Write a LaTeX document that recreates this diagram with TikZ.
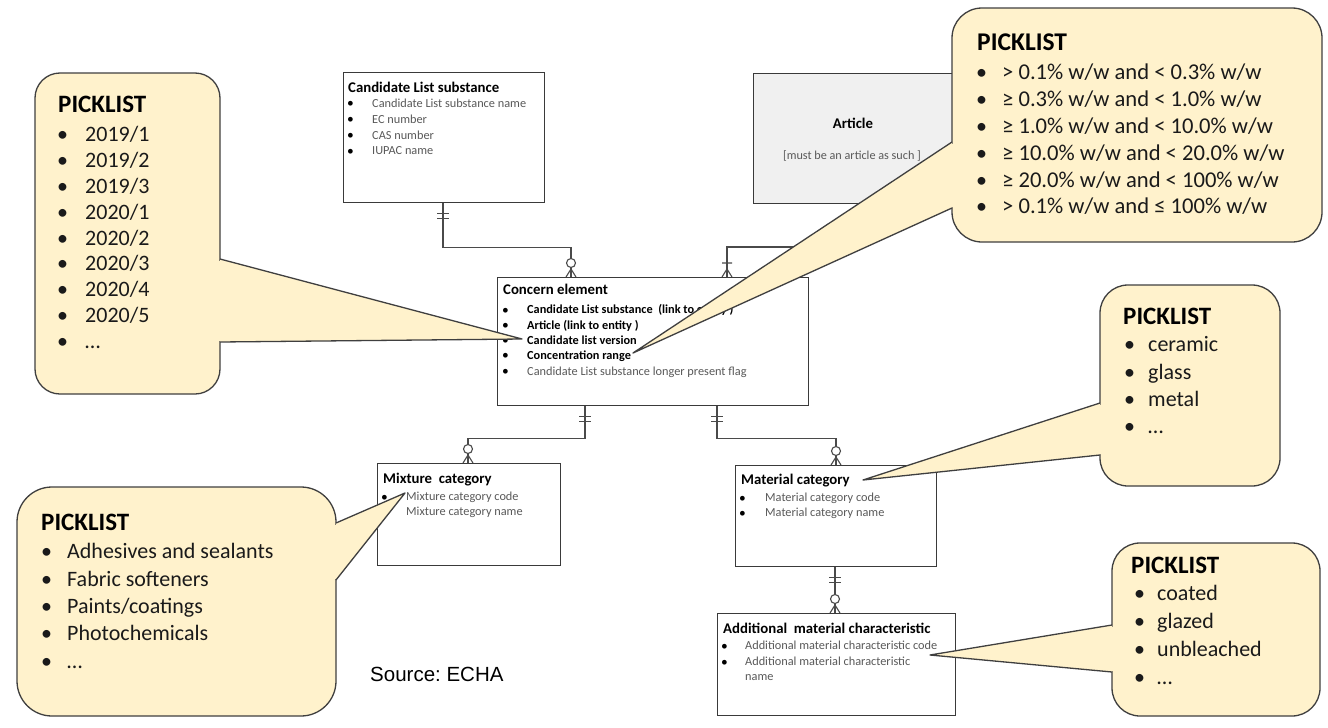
\documentclass[tikz,border=0pt]{standalone}
\usepackage{fontspec}
\setmainfont{Carlito}
\newfontfamily\arialfont{Liberation Sans}
\usetikzlibrary{calc}

\definecolor{noteFill}{HTML}{FFF2CC}
\definecolor{noteLine}{HTML}{3F3F3F}
\definecolor{entLine}{HTML}{3A3A3A}
\definecolor{relLine}{HTML}{4A4A4A}
\definecolor{attrGrey}{HTML}{595959}
\definecolor{articleFill}{HTML}{F0F0F0}
\definecolor{noteText}{HTML}{1A1A1A}

\tikzset{
  entity/.style={draw=entLine, line width=1.3pt, anchor=north west, inner sep=0pt},
  rel/.style={draw=relLine, line width=1.1pt},
  note/.style={fill=noteFill, draw=noteLine, line width=1.3pt},
  noteedge/.style={draw=noteLine, line width=1.3pt, line join=round},
  etitle/.style={anchor=west, inner sep=0pt, text height=10pt, text depth=1.5pt,
    font=\fontsize{14.8}{17}\selectfont\bfseries},
  eitem/.style={anchor=west, inner sep=0pt, text height=9pt, text depth=1.5pt,
    text=attrGrey, font=\fontsize{12.3}{15}\selectfont},
  ekey/.style={eitem, text=black, font=\fontsize{12.3}{15}\selectfont\bfseries},
  ebullet/.style={anchor=west, inner sep=0pt, text height=9.5pt, text depth=1.5pt,
    font=\fontsize{13.5}{15}\selectfont},
  ptitle/.style={anchor=west, inner sep=0pt, text height=17pt, text depth=2pt,
    font=\fontsize{25}{30}\selectfont\bfseries},
  pitem/.style={anchor=west, inner sep=0pt, text height=15pt, text depth=2pt,
    text=noteText, font=\fontsize{22}{26}\selectfont},
  crowzero/.pic={\draw[rel] (0,-8)--(-5,0) (0,-8)--(0,0) (0,-8)--(5,0);
                 \draw[rel, fill=white] (0,-14) circle (4.5);},
  crowone/.pic={\draw[rel] (0,-8)--(-5,0) (0,-8)--(0,0) (0,-8)--(5,0) (-5,-14)--(5,-14);},
  onlyone/.pic={\draw[rel] (-6,10)--(6,10) (-6,15)--(6,15);},
}

\begin{document}
\begin{tikzpicture}[x=1pt,y=-1pt]
\useasboundingbox[fill=white] (0,0) rectangle (1328,728);

% ---------------- entities ----------------
\node[entity, minimum width=201pt, minimum height=130pt] (cand) at (343,72) {};
\node[entity, fill=articleFill, minimum width=205pt, minimum height=130pt] (article) at (753,73) {};
\node[entity, minimum width=311pt, minimum height=128pt] (concern) at (497,277) {};
\node[entity, minimum width=183pt, minimum height=102pt] (mixture) at (377,463) {};
\node[entity, minimum width=201pt, minimum height=101pt] (material) at (735,465) {};
\node[entity, minimum width=238pt, minimum height=102pt] (addchar) at (717,613) {};

% Candidate List substance
\node[etitle] (candT) at (348,88) {Candidate List substance};
\foreach \t [count=\i] in {Candidate List substance name, EC number, CAS number, IUPAC name}{
  \node[ebullet] (candB\i) at (347,88+\i*15.8) {•};
  \node[eitem] (candI\i) at (372,88+\i*15.8) {\t};
}

% Article
\node[anchor=center, inner sep=0pt, font=\fontsize{14.8}{17}\selectfont\bfseries] (artT) at (853,123) {Article};
\node[anchor=center, inner sep=0pt, text=attrGrey, font=\fontsize{12.2}{14}\selectfont] (artS) at (852,156) {[must be an article as such ]};

% Concern element
\node[etitle] (conT) at (503,290) {Concern element};
\foreach \t [count=\i] in {Candidate List substance\ \ (link to entity ), Article (link to entity ), Candidate list version, Concentration range}{
  \node[ebullet] (conB\i) at (502,294.7+\i*15.3) {•};
  \node[ekey] (conI\i) at (527,294.7+\i*15.3) {\t};
}
\node[ebullet] (conB5) at (502,371.5) {•};
\node[eitem] (conI5) at (527,371.5) {Candidate List substance longer present flag};

% Mixture category
\node[etitle] (mixT) at (383,479) {Mixture\ \ category};
\node[ebullet] (mixB1) at (381,497) {•};
\node[eitem] (mixI1) at (406,497) {Mixture category code};
\node[eitem] (mixI2) at (406,512) {Mixture category name};

% Material category
\node[etitle] (matT) at (741,480) {Material category};
\node[ebullet] (matB1) at (739,498) {•};
\node[eitem] (matI1) at (765,498) {Material category code};
\node[ebullet] (matB2) at (739,513) {•};
\node[eitem] (matI2) at (765,513) {Material category name};

% Additional material characteristic
\node[etitle] (addT) at (723,629) {Additional\ \ material characteristic};
\node[ebullet] (addB1) at (721,646) {•};
\node[eitem] (addI1) at (745,646) {Additional material characteristic code};
\node[ebullet] (addB2) at (721,662) {•};
\node[eitem] (addI2) at (745,662) {Additional material characteristic};
\node[eitem] (addI3) at (745,677) {name};

% ---------------- relationships ----------------
\draw[rel] ($(cand.south west)+(100,0)$) coordinate (r1a) -- ++(0,44)
  -| ($(concern.north west)+(74,0)$) coordinate (r1b);
\pic at (r1a) {onlyone};
\pic at (r1b) {crowzero};

\draw[rel] ($(concern.north west)+(230,0)$) coordinate (r2a) -- ++(0,-30)
  -| ($(article.south west)+(109,0)$) coordinate (r2b);
\pic at (r2a) {crowone};

\draw[rel] ($(concern.south west)+(88,0)$) coordinate (r3a) -- ++(0,32)
  -| ($(mixture.north west)+(91,0)$) coordinate (r3b);
\pic at (r3a) {onlyone};
\pic at (r3b) {crowzero};

\draw[rel] ($(concern.south west)+(220,0)$) coordinate (r4a) -- ++(0,32)
  -| ($(material.north west)+(101,0)$) coordinate (r4b);
\pic at (r4a) {onlyone};
\pic at (r4b) {crowzero};

\draw[rel] ($(material.south west)+(100,0)$) coordinate (r5a)
  -- ($(addchar.north west)+(118,0)$) coordinate (r5b);
\pic at (r5a) {onlyone};
\pic at (r5b) {crowzero};

\node[anchor=west, inner sep=0pt, font=\arialfont\fontsize{20.5}{24}\selectfont] (source) at (370,674) {Source:\ ECHA};

% ---------------- picklist callouts ----------------
% candidate list versions
\draw[note, rounded corners=25pt] (35,73) rectangle (220,394);
\fill[noteFill] (220,259) -- (522,339) -- (220,342) -- cycle;
\draw[noteFill, line width=2.2pt] (220,260.5) -- (220,340.5);
\draw[noteedge] (220,259) -- (522,339) -- (220,342);
\node[ptitle] (p1T) at (58,105) {PICKLIST};
\foreach \t [count=\i] in {2019/1,2019/2,2019/3,2020/1,2020/2,2020/3,2020/4,2020/5,…}{
  \node[pitem] (p1B\i) at (57,109.5+\i*25.8) {•};
  \node[pitem] (p1I\i) at (85,109.5+\i*25.8) {\t};
}

% concentration ranges
\draw[note, rounded corners=30pt] (952,8) rectangle (1322,242);
\fill[noteFill] (952,142) -- (633,353) -- (952,208) -- cycle;
\draw[noteFill, line width=2.2pt] (952,143.5) -- (952,206.5);
\draw[noteedge] (952,142) -- (633,353) -- (952,208);
\node[ptitle, font=\fontsize{25.5}{30}\selectfont\bfseries] (p2T) at (977,43) {PICKLIST};
\foreach \t [count=\i] in {> 0.1\% w/w and < 0.3\% w/w, ≥ 0.3\% w/w and < 1.0\% w/w,
  ≥ 1.0\% w/w and < 10.0\% w/w, ≥ 10.0\% w/w and < 20.0\% w/w,
  ≥ 20.0\% w/w and < 100\% w/w, > 0.1\% w/w and ≤ 100\% w/w}{
  \node[pitem] (p2B\i) at (976,46.5+\i*26.8) {•};
  \node[pitem, font=\fontsize{22.6}{27}\selectfont] (p2I\i) at (1002,46.5+\i*26.8) {\t};
}

% material categories
\draw[note, rounded corners=28pt] (1100,285) rectangle (1280,486);
\fill[noteFill] (1100,403) -- (863,480) -- (1100,455) -- cycle;
\draw[noteFill, line width=2.2pt] (1100,404.5) -- (1100,453.5);
\draw[noteedge] (1100,403) -- (863,480) -- (1100,455);
\node[ptitle] (p3T) at (1123,317) {PICKLIST};
\foreach \t [count=\i] in {ceramic,glass,metal,…}{
  \node[pitem] (p3B\i) at (1124,318+\i*27.3) {•};
  \node[pitem] (p3I\i) at (1148,318+\i*27.3) {\t};
}

% mixture categories
\draw[note, rounded corners=35pt] (17,487) rectangle (336,716);
\fill[noteFill] (336,523) -- (405,493) -- (336,580) -- cycle;
\draw[noteFill, line width=2.2pt] (336,524.5) -- (336,578.5);
\draw[noteedge] (336,523) -- (405,493) -- (336,580);
\node[ptitle] (p4T) at (41,523) {PICKLIST};
\foreach \t [count=\i] in {Adhesives and sealants, Fabric softeners, Paints/coatings, Photochemicals, …}{
  \node[pitem] (p4B\i) at (41,525+\i*27.3) {•};
  \node[pitem] (p4I\i) at (67,525+\i*27.3) {\t};
}

% additional material characteristics
\draw[note, rounded corners=28pt] (1112,543) rectangle (1320,716);
\fill[noteFill] (1112,625) -- (930,655) -- (1112,672) -- cycle;
\draw[noteFill, line width=2.2pt] (1112,626.5) -- (1112,670.5);
\draw[noteedge] (1112,625) -- (930,655) -- (1112,672);
\node[ptitle] (p5T) at (1131,566) {PICKLIST};
\foreach \t [count=\i] in {coated,glazed,unbleached,…}{
  \node[pitem] (p5B\i) at (1134,566+\i*28) {•};
  \node[pitem] (p5I\i) at (1157,566+\i*28) {\t};
}
\end{tikzpicture}
\end{document}
